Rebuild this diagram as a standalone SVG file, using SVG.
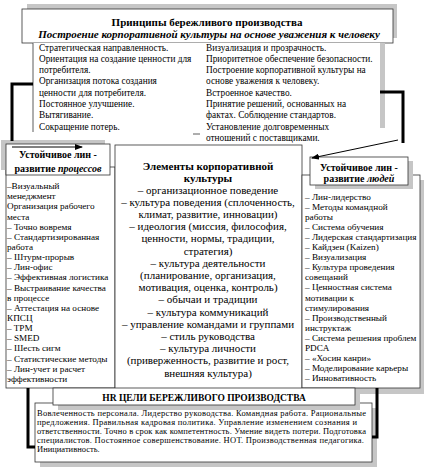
<svg xmlns="http://www.w3.org/2000/svg" width="428" height="473" viewBox="0 0 428 473">
<style>
.box{fill:#fff;stroke:#333;stroke-width:0.8}
.sh{fill:#c6c6c6}
.t{font-family:"Liberation Serif","Times New Roman",serif;fill:#000}
.p{font-size:9.3px}
.l{font-size:9.2px}
.m{font-size:11px;text-anchor:middle}
.hd{font-size:10px;font-weight:bold;text-anchor:middle}
.b{font-weight:bold}
.i{font-style:italic}
.c{text-anchor:middle}
.hr{font-size:8.5px}
.thick{fill:none;stroke:#000;stroke-width:3}
.thin{fill:none;stroke:#000;stroke-width:1}
</style>
<defs>
<marker id="ah" markerWidth="8" markerHeight="6" refX="7" refY="3" orient="auto" markerUnits="userSpaceOnUse">
<path d="M0,0 L8,3 L0,6 Z" fill="#000"/>
</marker>
</defs>

<g id="title">
<rect class="sh" x="27" y="4" width="370" height="34"/>
<rect class="box" x="22" y="9" width="371" height="34"/>
<text class="t b c" x="207" y="26" font-size="11">Принципы бережливого производства</text>
<text class="t b i c" x="209" y="38" font-size="11">Построение корпоративной культуры на основе уважения к человеку</text>
</g>

<g id="principles">
<rect x="33" y="43" width="347" height="89" fill="#fff"/>
<rect class="sh" x="380" y="43" width="5" height="85"/>
<line x1="33" y1="43" x2="33" y2="132" stroke="#333" stroke-width="0.8"/>
<line x1="193" y1="134" x2="200" y2="134" stroke="#333" stroke-width="0.8"/>
<g class="t p">
<text x="39" y="50.5">Стратегическая направленность.</text>
<text x="39" y="61.8">Ориентация на создание ценности для</text>
<text x="39" y="73.1">потребителя.</text>
<text x="39" y="84.4">Организация потока создания</text>
<text x="39" y="95.7">ценности для потребителя.</text>
<text x="39" y="107">Постоянное улучшение.</text>
<text x="39" y="118.3">Вытягивание.</text>
<text x="39" y="129.6">Сокращение потерь.</text>
<text x="206" y="50.5">Визуализация и прозрачность.</text>
<text x="206" y="61.8">Приоритетное обеспечение безопасности.</text>
<text x="206" y="73.1">Построение корпоративной культуры на</text>
<text x="206" y="84.4">основе уважения к человеку.</text>
<text x="206" y="95.7">Встроенное качество.</text>
<text x="206" y="107">Принятие решений, основанных на</text>
<text x="206" y="118.3">фактах. Соблюдение стандартов.</text>
<text x="206" y="129.6">Установление долговременных</text>
<text x="206" y="140.9">отношений с поставщиками.</text>
</g>
</g>

<g id="process-list">
<rect class="box" x="6" y="167" width="109" height="221"/>
<g class="t l">
<text x="7" y="189">–Визуальный</text>
<text x="7" y="199.2">менеджмент</text>
<text x="7" y="209.3">Организация рабочего</text>
<text x="7" y="219.5">места</text>
<text x="7" y="229.6">– Точно вовремя</text>
<text x="7" y="239.8">– Стандартизированная</text>
<text x="7" y="249.9">работа</text>
<text x="7" y="260.1">– Штурм-прорыв</text>
<text x="7" y="270.2">– Лин-офис</text>
<text x="7" y="280.4">– Эффективная логистика</text>
<text x="7" y="290.5">–  Выстраивание качества</text>
<text x="7" y="300.7">в процессе</text>
<text x="7" y="310.8">–  Аттестация на основе</text>
<text x="7" y="321">КПСЦ</text>
<text x="7" y="331.1">– TPM</text>
<text x="7" y="341.3">– SMED</text>
<text x="7" y="351.4">– Шесть сигм</text>
<text x="7" y="361.6">– Статистические методы</text>
<text x="7" y="371.7">– Лин-учет и расчет</text>
<text x="7" y="381.9">эффективности</text>
</g>
</g>

<g id="process-header">
<rect class="sh" x="1" y="140" width="104" height="30"/>
<rect class="box" x="6" y="144" width="104" height="31"/>
<text class="t hd" x="58" y="158">Устойчивое лин -</text>
<text class="t hd" x="58" y="171.5">развитие <tspan class="i">процессов</tspan></text>
</g>

<g id="culture">
<rect class="box" x="115" y="145" width="187" height="247"/>
<g class="t m">
<text class="b" x="208" y="170">Элементы корпоративной</text>
<text class="b" x="208" y="181.5">культуры</text>
<text x="208" y="193.5">– организационное поведение</text>
<text x="208" y="205.7">– культура поведения (сплоченность,</text>
<text x="208" y="217.9">климат, развитие, инновации)</text>
<text x="208" y="230.1">– идеология (миссия, философия,</text>
<text x="208" y="242.3">ценности, нормы, традиции,</text>
<text x="208" y="254.5">стратегия)</text>
<text x="208" y="266.7">– культура деятельности</text>
<text x="208" y="278.9">(планирование, организация,</text>
<text x="208" y="291.1">мотивация, оценка, контроль)</text>
<text x="208" y="303.3">– обычаи и традиции</text>
<text x="208" y="315.5">– культура коммуникаций</text>
<text x="208" y="327.7">– управление командами и группами</text>
<text x="208" y="339.9">– стиль руководства</text>
<text x="208" y="352.1">– культура личности</text>
<text x="208" y="364.3">(приверженность, развитие и рост,</text>
<text x="208" y="376.5">внешняя культура)</text>
</g>
</g>

<g id="people-list">
<rect class="sh" x="307" y="180" width="117" height="214"/>
<rect class="box" x="302" y="175" width="118" height="213"/>
<g class="t l">
<text x="305" y="199.5">– Лин-лидерство</text>
<text x="305" y="209.6">–  Методы командной</text>
<text x="305" y="219.7">работы</text>
<text x="305" y="229.8">– Система обучения</text>
<text x="305" y="239.9">– Лидерская стандартизация</text>
<text x="305" y="250">– Кайдзен (Kaizen)</text>
<text x="305" y="260.1">– Визуализация</text>
<text x="305" y="270.2">– Культура проведения</text>
<text x="305" y="280.3">совещаний</text>
<text x="305" y="290.4">– Ценностная система</text>
<text x="305" y="300.5">мотивации  к</text>
<text x="305" y="310.6">стимулирования</text>
<text x="305" y="320.7">– Производственный</text>
<text x="305" y="330.8">инструктаж</text>
<text x="305" y="340.9">– Система решения проблем</text>
<text x="305" y="351">PDCA</text>
<text x="305" y="361.1">– «Хосин канри»</text>
<text x="305" y="371.2">– Моделирование карьеры</text>
<text x="305" y="381.3">– Инновативность</text>
</g>
</g>

<g id="people-header">
<rect class="sh" x="315" y="161" width="98" height="28"/>
<rect class="box" x="310" y="157" width="98" height="28"/>
<text class="t hd" x="359" y="170.5">Устойчивое лин -</text>
<text class="t hd" x="359" y="181.5">развитие <tspan class="i">людей</tspan></text>
</g>

<g id="hr-body">
<rect class="sh" x="40" y="408" width="337" height="59"/>
<rect class="box" x="35" y="403" width="337" height="59"/>
<g class="t hr">
<text x="37" y="416" textLength="329" lengthAdjust="spacing">Вовлеченность персонала.    Лидерство руководства.    Командная работа.    Рациональные</text>
<text x="37" y="425" textLength="320" lengthAdjust="spacing">предложения.   Правильная кадровая политика.    Управление изменением сознания и</text>
<text x="37" y="434" textLength="329" lengthAdjust="spacing">ответственности. Точно в срок как компетентность.   Умение видеть потери.   Подготовка</text>
<text x="37" y="443" textLength="327" lengthAdjust="spacing">специалистов.   Постоянное совершенствование.   НОТ.   Производственная педагогика.</text>
<text x="37" y="452">Инициативность.</text>
</g>
</g>

<g id="hr-title">
<rect class="sh" x="58" y="393" width="302" height="17"/>
<rect class="box" x="53" y="388" width="302" height="17"/>
<text class="t b c" x="204" y="400.5" font-size="9.5">HR ЦЕЛИ БЕРЕЖЛИВОГО ПРОИЗВОДСТВА</text>
</g>

<g id="connectors">
<path class="thick" d="M33,84 H12 V141"/>
<path class="thick" d="M380,92 H403 V143"/>
<path class="thick" d="M28,388 V447 H35"/>
<path class="thick" d="M377,388 V437 H372"/>
<path class="thin" d="M12,147 H82" marker-end="url(#ah)"/>
<path class="thin" d="M398,140 L312,158" marker-end="url(#ah)"/>
</g>
</svg>
